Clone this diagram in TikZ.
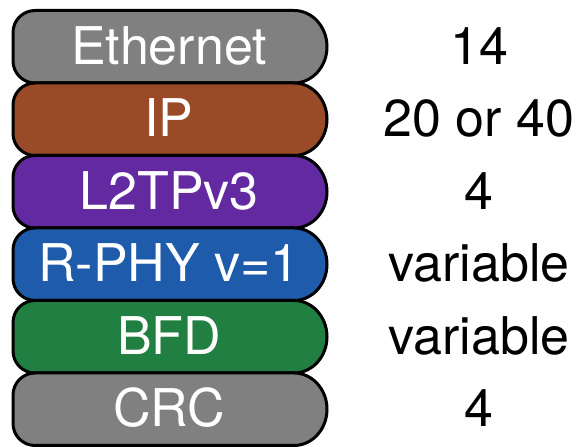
\documentclass[tikz,border=0pt]{standalone}
\usepackage{fontspec}
\setmainfont{TeX Gyre Heros}
\definecolor{cgray}{RGB}{128,128,128}
\definecolor{cbrown}{RGB}{153,74,39}
\definecolor{cpurple}{RGB}{99,41,160}
\definecolor{cblue}{RGB}{31,91,171}
\definecolor{cgreen}{RGB}{33,127,66}
\newcommand\layerbox[2]{% #1 top y, #2 fill colour
  \filldraw[layer, fill=#2] (35,#1) -- (294,#1)
    arc[start angle=90, end angle=-90, x radius=33, y radius=36.25]
    -- (35,#1-72.5)
    arc[start angle=270, end angle=180, radius=22]
    -- (13,#1-22)
    arc[start angle=180, end angle=90, radius=22] -- cycle;}
\begin{document}
\begin{tikzpicture}[x=1pt,y=1pt,
  layer/.style={draw=black, line width=3pt, line join=round},
  lbl/.style={inner sep=0pt, text height=37pt, text depth=0pt, font=\fontsize{52}{62}\selectfont},
  boxlbl/.style={lbl, text=white},
  sizelbl/.style={lbl, text=black}]
\useasboundingbox (0,0) rectangle (576,447);
\layerbox{436.5}{cgray}
\layerbox{364}{cbrown}
\layerbox{291.5}{cpurple}
\layerbox{219}{cblue}
\layerbox{146.5}{cgreen}
\layerbox{74}{cgray}
\node[boxlbl] (eth) at (169,401) {Ethernet};
\node[boxlbl] (ip) at (169,328.5) {IP};
\node[boxlbl] (l2tp) at (169,256) {L2TPv3};
\node[boxlbl] (rphy) at (169,183.5) {R-PHY v=1};
\node[boxlbl] (bfd) at (169,111) {BFD};
\node[boxlbl] (crc) at (169,38.5) {CRC};
\node[sizelbl] (seth) at (479,401) {14};
\node[sizelbl] (sip) at (479,328.5) {20 or 40};
\node[sizelbl] (sl2tp) at (479,256) {4};
\node[sizelbl] (srphy) at (479,183.5) {variable};
\node[sizelbl] (sbfd) at (479,111) {variable};
\node[sizelbl] (scrc) at (479,38.5) {4};
\end{tikzpicture}
\end{document}
